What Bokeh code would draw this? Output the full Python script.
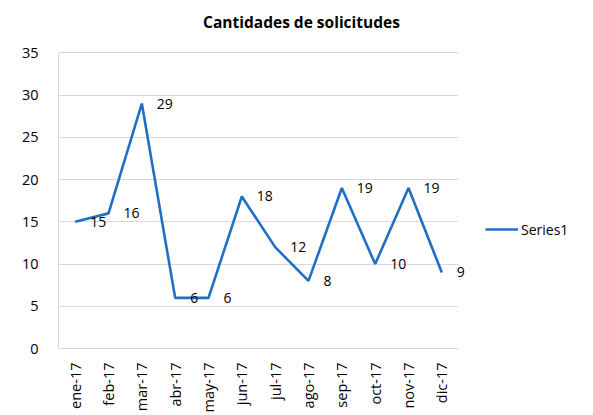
import math
from bokeh.plotting import figure
from bokeh.models import ColumnDataSource, LabelSet, Legend, LegendItem, Label, FixedTicker
from bokeh.core.properties import value
from bokeh.embed import file_html
from bokeh.resources import INLINE

months = ["ene-17", "feb-17", "mar-17", "abr-17", "may-17", "jun-17",
          "jul-17", "ago-17", "sep-17", "oct-17", "nov-17", "dic-17"]
counts = [15, 16, 29, 6, 6, 18, 12, 8, 19, 10, 19, 9]
y_ticks = [0, 5, 10, 15, 20, 25, 30, 35]
series_name = "Series1"
title_text = "Cantidades de solicitudes"

FONT = "Open Sans"
BLUE = "#1F6FC5"
GRID = "#D9D9D9"

idx = list(range(len(months)))
src = ColumnDataSource(dict(x=idx, v=counts, t=[str(c) for c in counts]))

W, H = 593, 415
# frame spans whole top so the title can sit inside it
frame_left, frame_right, frame_bottom = 58, 585, 352
plot_top = 53                      # pixel row of the 35 gridline
unit = 400 / len(months)
x_end = -0.5 + (frame_right - frame_left) / unit
y_max = y_ticks[-1]
y_end = y_max * frame_bottom / (frame_bottom - plot_top)

def px_to_x(px):
    return (px - frame_left) / unit - 0.5

def py_to_y(py):
    return (frame_bottom - py) / frame_bottom * y_end

p = figure(x_range=(-0.5, x_end), y_range=(0, y_end), width=W, height=H,
           output_backend="svg", toolbar_location=None,
           min_border_left=frame_left, min_border_right=W - frame_right,
           min_border_top=0, min_border_bottom=H - frame_bottom)
p.outline_line_color = None
p.background_fill_color = "white"
p.border_fill_color = "white"

title = Label(x=px_to_x(301), y=py_to_y(22), text=title_text,
              text_align="center", text_baseline="middle",
              text_font=FONT, text_font_size="15.5px", text_font_style="bold", text_color="#000000")
p.add_layout(title)

r = p.line("x", "v", source=src, line_color=BLUE, line_width=2.6)

labels = LabelSet(x="x", y="v", text="t", source=src, x_offset=15, y_offset=0,
                  text_baseline="middle", text_align="left",
                  text_font=value(FONT), text_font_size="14px", text_color="#000000")
p.add_layout(labels)

p.xgrid.grid_line_color = None
p.ygrid.grid_line_color = GRID
p.ygrid.grid_line_width = 1
p.ygrid.cross_bounds = (-0.5, len(months) - 0.5)
p.yaxis.ticker = FixedTicker(ticks=y_ticks)
p.yaxis.bounds = (0, y_max)

p.xaxis.ticker = FixedTicker(ticks=idx)
p.xaxis.major_label_overrides = {i: m for i, m in zip(idx, months)}
p.xaxis.bounds = (-0.5, len(months) - 0.5)

for ax in (p.xaxis, p.yaxis):
    ax.axis_line_color = GRID
    ax.axis_line_width = 1
    ax.major_tick_line_color = None
    ax.minor_tick_line_color = None
    ax.major_label_text_font = FONT
    ax.major_label_text_font_size = "14.5px"
    ax.major_label_text_color = "#000000"

p.yaxis.major_label_standoff = 14
p.xaxis.major_label_orientation = math.pi / 2
p.xaxis.major_label_standoff = 8

legend = Legend(items=[LegendItem(label=series_name, renderers=[r])],
                location=(427, 109), padding=0, margin=0, glyph_width=33, glyph_height=20,
                label_standoff=3, border_line_color=None, background_fill_alpha=0,
                label_text_font=FONT, label_text_font_size="14px", label_text_color="#000000")
p.add_layout(legend)

open("out.html", "w").write(file_html(p, INLINE))
